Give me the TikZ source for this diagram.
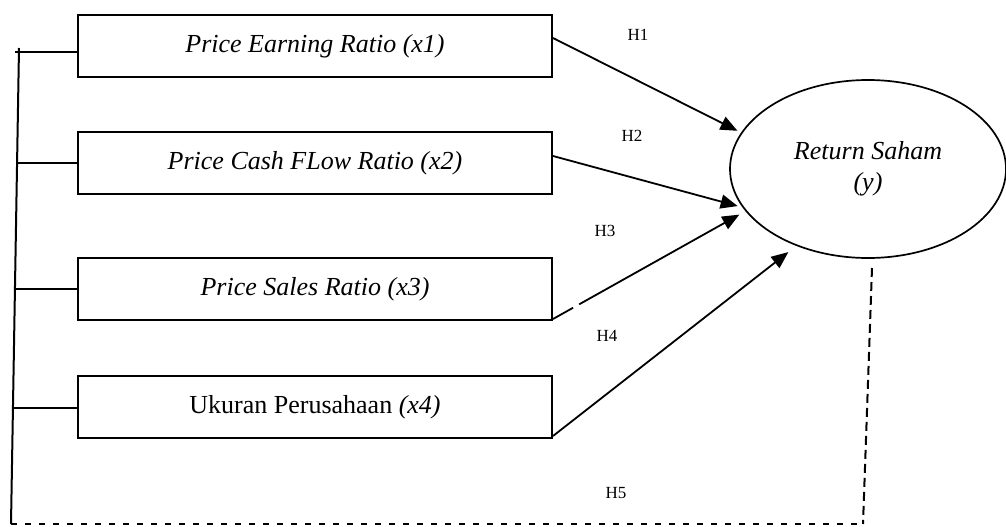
\documentclass[tikz,border=0pt]{standalone}
\usepackage{fontspec}
\setmainfont{Liberation Serif}
\usetikzlibrary{arrows.meta,shapes.geometric}
\begin{document}
\begin{tikzpicture}[x=1pt,y=-1pt,
  box/.style={draw, line width=2pt, minimum width=474pt, minimum height=62pt, inner sep=0pt, font=\fontsize{26}{30}\selectfont},
  lab/.style={font=\fontsize{17}{20}\selectfont, inner sep=0pt},
  arr/.style={line width=1.8pt, -{Triangle[length=17pt,width=14pt]}},
  brline/.style={line width=2pt},
  dashbottom/.style={line width=2pt, dash pattern=on 6pt off 8pt},
  dashright/.style={line width=2pt, dash pattern=on 9pt off 5pt}]
\useasboundingbox (0,0) rectangle (1006,527);

\node[box] (b1) at (315,46) {\itshape Price Earning Ratio (x1)};
\node[box] (b2) at (315,163) {\itshape Price Cash FLow Ratio (x2)};
\node[box] (b3) at (315,289) {\itshape Price Sales Ratio (x3)};
\node[box] (b4) at (315,407) {Ukuran Perusahaan \textit{(x4)}};

\node[draw, ellipse, line width=1.7pt, minimum width=276pt, minimum height=178pt, inner sep=0pt,
  align=center, font=\itshape\fontsize{26}{31}\selectfont] (el) at (868,169) {Return Saham\\(y)};

\draw[arr, shorten >=4pt] ([yshift=8pt]b1.east) -- (el.164);
\draw[arr, shorten >=5pt] ([yshift=7pt]b2.east) -- (el.197);
\draw[arr, shorten >=7pt, dash pattern=on 23pt off 7pt on 400pt] ([yshift=2pt]b3.south east) -- (el.199);
\draw[arr, shorten >=10pt] ([yshift=3pt]b4.south east) -- (el.227);

\node[lab] (h1) at (638,35) {H1};
\node[lab] (h2) at (632,136) {H2};
\node[lab] (h3) at (605,231) {H3};
\node[lab] (h4) at (607,336) {H4};
\node[lab] (h5) at (616,493) {H5};

\coordinate (lt) at (19,48);
\coordinate (lb) at (11,524);
\coordinate (t1) at (15,52);
\coordinate (t2) at (17,163);
\coordinate (t3) at (15,289);
\coordinate (t4) at (13,408);
\coordinate (vt) at (872,268);
\coordinate (db) at (863,524);

\draw[brline] (lt) -- (lb);
\draw[brline] (t1) -- ([yshift=-6pt]b1.west);
\draw[brline] (t2) -- (b2.west);
\draw[brline] (t3) -- (b3.west);
\draw[brline] (t4) -- ([yshift=-1pt]b4.west);

\draw[dashbottom] (lb) -- (db);
\draw[dashright] (vt) -- (db);
\end{tikzpicture}
\end{document}
